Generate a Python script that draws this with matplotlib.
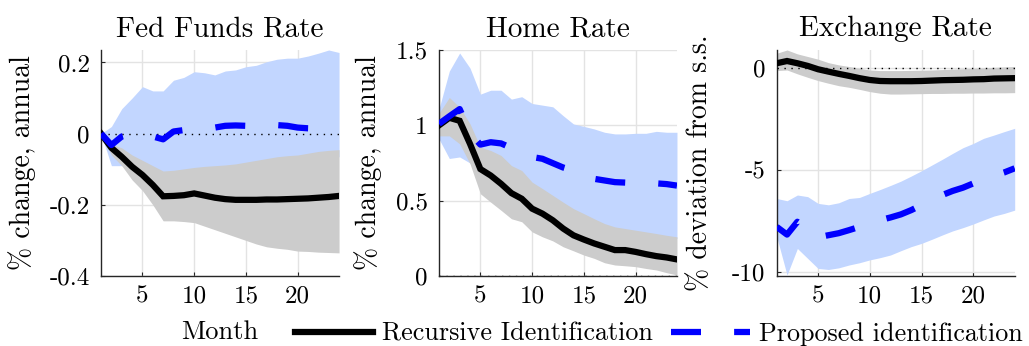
import matplotlib
matplotlib.use("Agg")
import matplotlib.pyplot as plt
from matplotlib.lines import Line2D

plt.rcParams['font.family'] = 'serif'
plt.rcParams['font.serif'] = ['cmr10']
plt.rcParams['mathtext.fontset'] = 'cm'
plt.rcParams['axes.unicode_minus'] = False
plt.rcParams['axes.formatter.use_mathtext'] = False
plt.rcParams['font.size'] = 18

months = list(range(1, 25))

# Fed Funds Rate
ff_rec = [0.0, -0.04, -0.065, -0.093, -0.116, -0.144, -0.176, -0.175, -0.173, -0.168,
          -0.174, -0.18, -0.184, -0.186, -0.186, -0.186, -0.185, -0.185, -0.184, -0.183,
          -0.182, -0.18, -0.178, -0.175]
ff_rec_lo = [0.0, -0.06, -0.09, -0.13, -0.16, -0.2, -0.245, -0.245, -0.247, -0.25,
             -0.26, -0.27, -0.28, -0.29, -0.3, -0.31, -0.318, -0.322, -0.325, -0.33,
             -0.331, -0.333, -0.334, -0.335]
ff_rec_hi = [0.0, -0.03, -0.04, -0.06, -0.075, -0.09, -0.105, -0.103, -0.099, -0.095,
             -0.092, -0.09, -0.088, -0.085, -0.08, -0.075, -0.07, -0.065, -0.062, -0.06,
             -0.055, -0.05, -0.047, -0.045]
ff_new = [0.0, -0.032, -0.008, 0.0, -0.004, -0.008, -0.016, 0.006, 0.01, 0.012,
          0.015, 0.017, 0.022, 0.023, 0.022, 0.021, 0.021, 0.024, 0.022, 0.017,
          0.015, 0.014, 0.013, 0.015]
ff_new_lo = [0.0, -0.09, -0.09, -0.1, -0.11, -0.12, -0.125, -0.123, -0.12, -0.115,
             -0.112, -0.11, -0.108, -0.105, -0.1, -0.095, -0.09, -0.085, -0.082, -0.08,
             -0.075, -0.07, -0.067, -0.065]
ff_new_hi = [0.0, 0.02, 0.07, 0.1, 0.132, 0.12, 0.12, 0.15, 0.158, 0.174,
             0.171, 0.165, 0.176, 0.179, 0.188, 0.192, 0.202, 0.209, 0.212, 0.212,
             0.218, 0.226, 0.235, 0.228]

# Home Rate
hr_rec = [1.0, 1.05, 1.03, 0.877, 0.71, 0.667, 0.612, 0.55, 0.513, 0.447,
          0.414, 0.37, 0.315, 0.27, 0.242, 0.216, 0.194, 0.172, 0.172, 0.16,
          0.145, 0.132, 0.123, 0.11]
hr_rec_lo = [0.93, 0.93, 0.877, 0.745, 0.546, 0.49, 0.436, 0.38, 0.36, 0.293,
             0.26, 0.233, 0.194, 0.167, 0.139, 0.117, 0.088, 0.073, 0.068, 0.062,
             0.05, 0.04, 0.022, 0.007]
hr_rec_hi = [1.08, 1.185, 1.12, 1.01, 0.855, 0.833, 0.8, 0.733, 0.7, 0.623,
             0.58, 0.535, 0.49, 0.447, 0.414, 0.38, 0.348, 0.326, 0.315, 0.304,
             0.293, 0.282, 0.27, 0.26]
hr_new = [1.01, 1.06, 1.108, 0.95, 0.872, 0.888, 0.88, 0.85, 0.82, 0.79,
          0.778, 0.749, 0.72, 0.7, 0.68, 0.645, 0.634, 0.623, 0.62, 0.615,
          0.617, 0.615, 0.61, 0.6]
hr_new_lo = [0.91, 0.78, 0.79, 0.75, 0.62, 0.58, 0.55, 0.5, 0.47, 0.43,
             0.4, 0.38, 0.35, 0.33, 0.31, 0.3, 0.29, 0.28, 0.27, 0.27,
             0.26, 0.26, 0.25, 0.25]
hr_new_hi = [1.108, 1.36, 1.48, 1.38, 1.207, 1.233, 1.233, 1.174, 1.19, 1.145,
             1.134, 1.123, 1.064, 1.009, 0.993, 0.976, 0.954, 0.943, 0.943, 0.947,
             0.947, 0.96, 0.954, 0.954]

# Exchange Rate
ex_rec = [0.23, 0.34, 0.23, 0.1, -0.065, -0.18, -0.29, -0.39, -0.5, -0.59,
          -0.64, -0.65, -0.65, -0.65, -0.64, -0.62, -0.6, -0.59, -0.58, -0.56,
          -0.55, -0.52, -0.51, -0.5]
ex_rec_lo = [-0.13, -0.1, -0.29, -0.46, -0.62, -0.75, -0.87, -0.95, -1.05, -1.16,
             -1.24, -1.28, -1.28, -1.27, -1.26, -1.25, -1.25, -1.24, -1.24, -1.23,
             -1.23, -1.22, -1.22, -1.21]
ex_rec_hi = [0.72, 0.88, 0.69, 0.56, 0.43, 0.26, 0.15, 0.07, -0.02, -0.1,
             -0.13, -0.13, -0.13, -0.12, -0.11, -0.1, -0.08, -0.06, -0.04, -0.02,
             0.0, 0.03, 0.05, 0.07]
ex_new = [-7.79, -8.17, -7.54, -7.9, -8.3, -8.2, -8.1, -7.95, -7.79, -7.62,
          -7.46, -7.33, -7.18, -6.97, -6.72, -6.47, -6.23, -6.03, -5.87, -5.66,
          -5.46, -5.28, -5.12, -4.92]
ex_new_lo = [-8.27, -10.15, -8.85, -9.34, -9.83, -9.88, -9.8, -9.66, -9.55, -9.41,
             -9.3, -9.17, -8.96, -8.76, -8.6, -8.4, -8.19, -7.99, -7.83, -7.65,
             -7.45, -7.26, -7.13, -6.97]
ex_new_hi = [-6.4, -6.51, -6.23, -6.31, -6.64, -6.71, -6.61, -6.4, -6.35, -6.15,
             -5.96, -5.76, -5.55, -5.3, -5.04, -4.76, -4.48, -4.19, -3.91, -3.7,
             -3.45, -3.29, -3.12, -2.96]

titles = ["Fed Funds Rate", "Home Rate", "Exchange Rate"]
ylabels = ["% change, annual", "% change, annual", "% deviation from s.s."]
ylims = [(-0.4, 0.235), (0, 1.5), (-10.2, 0.88)]
yticks = [[-0.4, -0.2, 0, 0.2], [0, 0.5, 1, 1.5], [-10, -5, 0]]
yticklabels = [["-0.4", "-0.2", "0", "0.2"], ["0", "0.5", "1", "1.5"], ["-10", "-5", "0"]]
xticks = [5, 10, 15, 20]

panels = [
    (ff_rec, ff_rec_lo, ff_rec_hi, ff_new, ff_new_lo, ff_new_hi),
    (hr_rec, hr_rec_lo, hr_rec_hi, hr_new, hr_new_lo, hr_new_hi),
    (ex_rec, ex_rec_lo, ex_rec_hi, ex_new, ex_new_lo, ex_new_hi),
]

blue_band = '#c2d6ff'
gray_band = '#cccccc'
lw = 4.5
dash = (4.8, 5.3)

fig = plt.figure(figsize=(10.29, 3.46), dpi=100)
lefts = [0.0982, 0.4266, 0.7548]
label_x = [-0.273, -0.24, -0.269]

for i, (rec, rec_lo, rec_hi, new, new_lo, new_hi) in enumerate(panels):
    ax = fig.add_axes([lefts[i], 0.2023, 0.2313, 0.6532])
    ax.fill_between(months, new_lo, new_hi, color=blue_band, lw=0, zorder=1)
    ax.fill_between(months, rec_lo, rec_hi, color=gray_band, lw=0, zorder=2)
    ax.plot([1, 24], [0, 0], color='black', lw=1, ls=(0, (1, 4)), zorder=3)
    ax.plot(months, rec, color='black', lw=lw, solid_joinstyle='miter', zorder=4)
    ax.plot(months, new, color='blue', lw=lw, dashes=dash, dash_capstyle='butt',
            zorder=5)

    ax.set_xlim(1, 24)
    ax.set_ylim(*ylims[i])
    ax.set_xticks(xticks)
    ax.set_yticks(yticks[i])
    ax.set_yticklabels(yticklabels[i])
    ax.set_title(titles[i], pad=10, fontsize=21)
    ax.set_ylabel(ylabels[i], fontsize=20)
    ax.yaxis.set_label_coords(label_x[i], 0.5)

    ax.grid(True, color='#e3e3e3', lw=1)
    ax.set_axisbelow(True)
    for s in ['top', 'right']:
        ax.spines[s].set_visible(False)
    for s in ['left', 'bottom']:
        ax.spines[s].set_color('#262626')
        ax.spines[s].set_linewidth(1)
    ax.tick_params(direction='in', length=3, width=0.8, color='#262626',
                   labelsize=18)
    ax.tick_params(axis='y', pad=8)
    ax.tick_params(axis='x', pad=7)

    if i == 0:
        ax.set_xlabel("Month", fontsize=19, labelpad=9)

handles = [
    Line2D([], [], color='black', lw=lw),
    Line2D([], [], color='blue', lw=lw, dashes=dash, dash_capstyle='butt'),
]
fig.legend(handles, ["Recursive Identification", "Proposed identification"],
           loc='center left', bbox_to_anchor=(295 / 1029, 12 / 346), ncol=2,
           frameon=False, fontsize=18.8, handlelength=3.0, handletextpad=0.34,
           columnspacing=0.7, borderpad=0, borderaxespad=0)

fig.savefig("out.png", dpi=100)
